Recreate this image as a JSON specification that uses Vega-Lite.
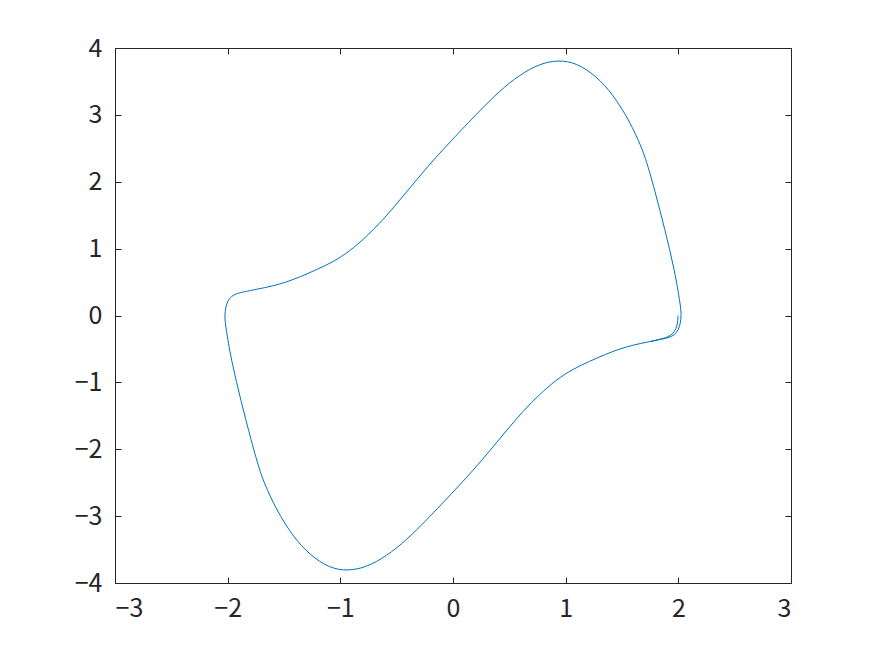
{
  "$schema": "https://vega.github.io/schema/vega-lite/v6.json",
  "width": 676,
  "height": 535,
  "autosize": "none",
  "padding": {"left": 115, "top": 48, "right": 84, "bottom": 73},
  "background": "white",
  "config": {
    "view": {"stroke": "#262626", "strokeWidth": 1},
    "axis": {
      "grid": false,
      "domainColor": "#262626",
      "tickColor": "#262626",
      "labelColor": "#262626",
      "labelFont": "Noto Sans CJK JP",
      "labelFontSize": 25,
      "tickSize": -6,
      "labelPadding": 19,
      "title": null
    }
  },
  "data": {
    "values": [
      {"i": 0, "x": 1.997, "y": 0.0},
      {"i": 1, "x": 1.995, "y": -0.1},
      {"i": 2, "x": 1.982, "y": -0.19},
      {"i": 3, "x": 1.955, "y": -0.27},
      {"i": 4, "x": 1.91, "y": -0.32},
      {"i": 5, "x": 1.85, "y": -0.35},
      {"i": 6, "x": 1.75, "y": -0.39},
      {"i": 7, "x": 1.6, "y": -0.44},
      {"i": 8, "x": 1.48, "y": -0.5},
      {"i": 9, "x": 1.36, "y": -0.575},
      {"i": 10, "x": 1.212, "y": -0.685},
      {"i": 11, "x": 1.065, "y": -0.8},
      {"i": 12, "x": 0.917, "y": -0.96},
      {"i": 13, "x": 0.768, "y": -1.18},
      {"i": 14, "x": 0.621, "y": -1.43},
      {"i": 15, "x": 0.473, "y": -1.725},
      {"i": 16, "x": 0.325, "y": -2.025},
      {"i": 17, "x": 0.177, "y": -2.32},
      {"i": 18, "x": 0.0, "y": -2.64},
      {"i": 19, "x": -0.1, "y": -2.82},
      {"i": 20, "x": -0.237, "y": -3.06},
      {"i": 21, "x": -0.414, "y": -3.36},
      {"i": 22, "x": -0.592, "y": -3.6},
      {"i": 23, "x": -0.769, "y": -3.765},
      {"i": 24, "x": -0.932, "y": -3.82},
      {"i": 25, "x": -1.095, "y": -3.78},
      {"i": 26, "x": -1.272, "y": -3.58},
      {"i": 27, "x": -1.42, "y": -3.306},
      {"i": 28, "x": -1.568, "y": -2.906},
      {"i": 29, "x": -1.672, "y": -2.52},
      {"i": 30, "x": -1.71, "y": -2.34},
      {"i": 31, "x": -1.748, "y": -2.13},
      {"i": 32, "x": -1.792, "y": -1.86},
      {"i": 33, "x": -1.837, "y": -1.571},
      {"i": 34, "x": -1.88, "y": -1.286},
      {"i": 35, "x": -1.923, "y": -0.987},
      {"i": 36, "x": -1.963, "y": -0.688},
      {"i": 37, "x": -1.996, "y": -0.389},
      {"i": 38, "x": -2.01, "y": -0.239},
      {"i": 39, "x": -2.022, "y": -0.1},
      {"i": 40, "x": -2.026, "y": 0.0},
      {"i": 41, "x": -2.018, "y": 0.12},
      {"i": 42, "x": -2.0, "y": 0.22},
      {"i": 43, "x": -1.966, "y": 0.29},
      {"i": 44, "x": -1.92, "y": 0.33},
      {"i": 45, "x": -1.85, "y": 0.355},
      {"i": 46, "x": -1.75, "y": 0.39},
      {"i": 47, "x": -1.6, "y": 0.44},
      {"i": 48, "x": -1.48, "y": 0.5},
      {"i": 49, "x": -1.36, "y": 0.575},
      {"i": 50, "x": -1.212, "y": 0.685},
      {"i": 51, "x": -1.065, "y": 0.8},
      {"i": 52, "x": -0.917, "y": 0.96},
      {"i": 53, "x": -0.768, "y": 1.18},
      {"i": 54, "x": -0.621, "y": 1.43},
      {"i": 55, "x": -0.473, "y": 1.725},
      {"i": 56, "x": -0.325, "y": 2.025},
      {"i": 57, "x": -0.177, "y": 2.32},
      {"i": 58, "x": 0.0, "y": 2.64},
      {"i": 59, "x": 0.1, "y": 2.82},
      {"i": 60, "x": 0.237, "y": 3.06},
      {"i": 61, "x": 0.414, "y": 3.36},
      {"i": 62, "x": 0.592, "y": 3.6},
      {"i": 63, "x": 0.769, "y": 3.765},
      {"i": 64, "x": 0.932, "y": 3.82},
      {"i": 65, "x": 1.095, "y": 3.78},
      {"i": 66, "x": 1.272, "y": 3.58},
      {"i": 67, "x": 1.42, "y": 3.306},
      {"i": 68, "x": 1.568, "y": 2.906},
      {"i": 69, "x": 1.672, "y": 2.52},
      {"i": 70, "x": 1.71, "y": 2.34},
      {"i": 71, "x": 1.748, "y": 2.13},
      {"i": 72, "x": 1.792, "y": 1.86},
      {"i": 73, "x": 1.837, "y": 1.571},
      {"i": 74, "x": 1.88, "y": 1.286},
      {"i": 75, "x": 1.923, "y": 0.987},
      {"i": 76, "x": 1.963, "y": 0.688},
      {"i": 77, "x": 1.996, "y": 0.389},
      {"i": 78, "x": 2.01, "y": 0.239},
      {"i": 79, "x": 2.022, "y": 0.1},
      {"i": 80, "x": 2.026, "y": 0.0},
      {"i": 81, "x": 2.018, "y": -0.12},
      {"i": 82, "x": 2.0, "y": -0.22},
      {"i": 83, "x": 1.966, "y": -0.29},
      {"i": 84, "x": 1.92, "y": -0.33},
      {"i": 85, "x": 1.85, "y": -0.355},
      {"i": 86, "x": 1.75, "y": -0.39}
    ]
  },
  "layer": [
    {
      "mark": {"type": "line", "color": "#0072BD", "strokeWidth": 1, "interpolate": "basis", "clip": true},
      "encoding": {
        "x": {"field": "x", "type": "quantitative", "scale": {"domain": [-3, 3], "nice": false, "zero": false},
              "axis": {"values": [-3, -2, -1, 0, 1, 2, 3], "format": "d", "labelExpr": "replace(datum.label, '-', '−')"}},
        "y": {"field": "y", "type": "quantitative", "scale": {"domain": [-4, 4], "nice": false, "zero": false},
              "axis": {"values": [-4, -3, -2, -1, 0, 1, 2, 3, 4], "format": "d", "labelExpr": "replace(datum.label, '-', '−')"}},
        "order": {"field": "i", "type": "quantitative"}
      }
    },
    {
      "mark": {"type": "line", "opacity": 0},
      "encoding": {
        "x": {"field": "x", "type": "quantitative", "scale": {"domain": [-3, 3], "nice": false, "zero": false},
              "axis": {"orient": "top", "values": [-2, -1, 0, 1, 2], "labels": false}},
        "y": {"field": "y", "type": "quantitative", "scale": {"domain": [-4, 4], "nice": false, "zero": false},
              "axis": {"orient": "right", "values": [-3, -2, -1, 0, 1, 2, 3], "labels": false}},
        "order": {"field": "i", "type": "quantitative"}
      }
    }
  ],
  "resolve": {"axis": {"x": "independent", "y": "independent"}}
}
